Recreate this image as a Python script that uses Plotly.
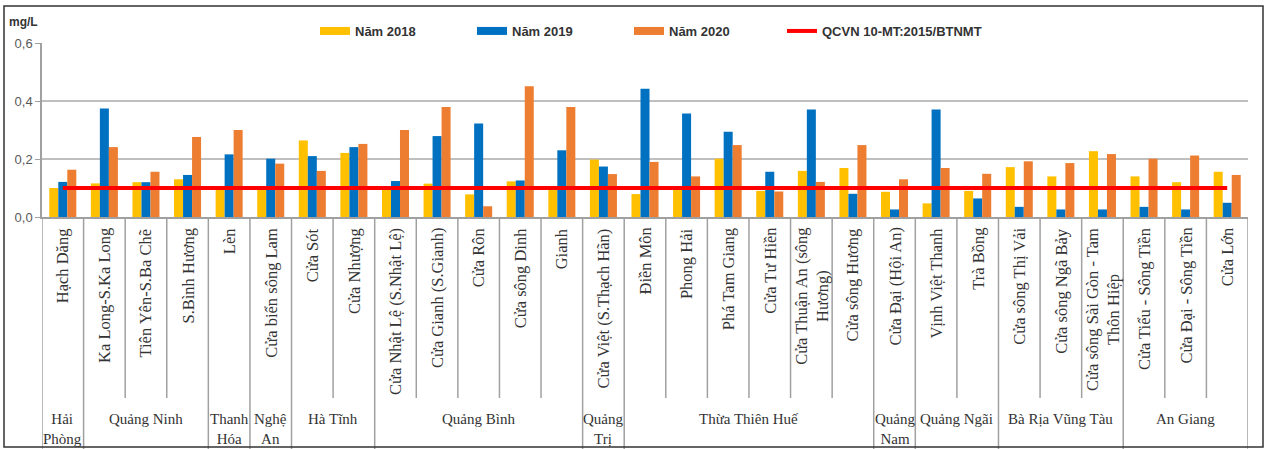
import plotly.graph_objs as go

# --- data -------------------------------------------------------------
categories = [
    "Hạch Dăng", "Ka Long-S.Ka Long", "Tiên Yên-S.Ba Chẽ", "S.Bình Hương",
    "Lèn", "Cửa biển sông Lam", "Cửa Sót", "Cửa Nhượng",
    "Cửa Nhật Lệ (S.Nhật Lệ)", "Cửa Gianh (S.Gianh)", "Cửa Rôn",
    "Cửa sông Dinh", "Gianh", "Cửa Việt (S.Thạch Hãn)", "Điền Môn",
    "Phong Hải", "Phá Tam Giang", "Cửa Tư Hiền", "Cửa Thuận An (sông<br>Hương)",
    "Cửa sông Hương", "Cửa Đại (Hội An)", "Vịnh Việt Thanh", "Trà Bồng",
    "Cửa sông Thị Vải", "Cửa sông Ngã Bảy", "Cửa sông Sài Gòn - Tam<br>Thôn Hiệp",
    "Cửa Tiểu - Sông Tiền", "Cửa Đại - Sông Tiền", "Cửa Lớn",
]
groups = ["Hải<br>Phòng", "Quảng Ninh", "Thanh<br>Hóa", "Nghệ<br>An", "Hà Tĩnh",
          "Quảng Bình", "Quảng<br>Trị", "Thừa Thiên Huế", "Quảng<br>Nam",
          "Quảng Ngãi", "Bà Rịa Vũng Tàu", "An Giang"]
group_sizes = [1, 3, 1, 1, 2, 5, 1, 6, 1, 2, 3, 3]

v2018 = [0.10, 0.116, 0.12, 0.13, 0.10, 0.095, 0.264, 0.221, 0.10, 0.115,
         0.078, 0.123, 0.10, 0.198, 0.079, 0.095, 0.201, 0.09, 0.159, 0.169,
         0.087, 0.047, 0.09, 0.172, 0.14, 0.227, 0.14, 0.12, 0.156]
v2019 = [0.121, 0.374, 0.12, 0.145, 0.216, 0.201, 0.21, 0.241, 0.124, 0.279,
         0.322, 0.126, 0.23, 0.174, 0.442, 0.357, 0.294, 0.156, 0.371, 0.08,
         0.026, 0.371, 0.064, 0.035, 0.026, 0.026, 0.035, 0.026, 0.049]
v2020 = [0.163, 0.241, 0.156, 0.276, 0.30, 0.184, 0.159, 0.252, 0.30, 0.379,
         0.037, 0.451, 0.379, 0.148, 0.19, 0.14, 0.248, 0.088, 0.121, 0.248,
         0.13, 0.169, 0.149, 0.192, 0.186, 0.217, 0.201, 0.212, 0.145]
qcvn = [0.1] * len(categories)

series = [("Năm 2018", v2018, "#FFC000"),
          ("Năm 2019", v2019, "#0070C0"),
          ("Năm 2020", v2020, "#ED7D31")]

# --- geometry helpers ---------------------------------------------------
W, H = 1267, 449
ML, MR, MT, MB = 42, 19, 43, 232

def px(p):
    return (p - ML) / (W - ML - MR)

def py(p):
    return (H - MB - p) / (H - MT - MB)

fig = go.Figure()

for name, vals, col in series:
    fig.add_trace(go.Bar(x=categories, y=vals, name=name, marker_color=col,
                         marker_line_width=0, showlegend=False, legendgroup=name))
    # wide swatch for the legend
    fig.add_trace(go.Scatter(x=[None], y=[None], mode="lines", name=name,
                             line=dict(color=col, width=8), legendgroup=name))

fig.add_trace(go.Scatter(x=categories, y=qcvn, mode="lines",
                         name="QCVN 10-MT:2015/BTNMT", legend="legend2",
                         line=dict(color="#FF0000", width=4)))

shapes = []
sep_color = "#A0A0A0"
# group boundaries go all the way down, others stop above group names
bounds = {0}
acc = 0
for s in group_sizes:
    acc += s
    bounds.add(acc)
for b in range(len(categories) + 1):
    y1 = py(449) if b in bounds else py(398)
    shapes.append(dict(type="line", xref="x", yref="paper", x0=b - 0.5, x1=b - 0.5,
                       y0=0, y1=y1, line=dict(color=sep_color, width=1.5)))
# outer frame
shapes.append(dict(type="rect", xref="paper", yref="paper", x0=px(4), x1=px(1263),
                   y0=py(447), y1=py(6), line=dict(color="#333333", width=1.5)))

annotations = []
for c in categories:
    annotations.append(dict(x=c, y=py(226), xref="x", yref="paper", text=c,
                            textangle=-90, showarrow=False, yanchor="top",
                            xanchor="center", align="center",
                            font=dict(family="Liberation Serif", size=16.5, color="#333333")))
acc = 0
for g, s in zip(groups, group_sizes):
    mid = acc + (s - 1) / 2
    acc += s
    annotations.append(dict(x=mid, y=py(409), xref="x", yref="paper", text=g,
                            showarrow=False, yanchor="top", xanchor="center",
                            align="center",
                            font=dict(family="Liberation Serif", size=15, color="#333333")))
annotations.append(dict(x=px(7), y=py(22), xref="paper", yref="paper", text="<b>mg/L</b>",
                        showarrow=False, xanchor="left", yanchor="middle",
                        font=dict(family="Liberation Sans", size=12, color="#333333")))

legend_font = dict(family="Liberation Sans", size=13, color="#333333", weight="bold")

fig.update_layout(
    width=W, height=H,
    margin=dict(l=ML, r=MR, t=MT, b=MB),
    paper_bgcolor="white", plot_bgcolor="white",
    barmode="group", bargap=0.35, bargroupgap=0,
    separators=",.",
    shapes=shapes, annotations=annotations,
    legend=dict(orientation="h", x=px(315), y=py(31), xanchor="left", yanchor="middle",
                entrywidth=112, entrywidthmode="pixels",
                font=legend_font, bgcolor="rgba(0,0,0,0)"),
    legend2=dict(orientation="h", x=px(782), y=py(31), xanchor="left", yanchor="middle",
                 font=legend_font, bgcolor="rgba(0,0,0,0)"),
    xaxis=dict(showticklabels=False, ticks="", range=[-0.5, len(categories) - 0.5],
               showline=True, linecolor="#A0A0A0", linewidth=1.5, showgrid=False,
               fixedrange=True),
    yaxis=dict(range=[0, 0.6], dtick=0.2, tickformat=".1f",
               showgrid=True, gridcolor="#BFBFBF", gridwidth=1.5,
               showline=True, linecolor="#A0A0A0", linewidth=1.5,
               ticks="outside", ticklen=5, tickcolor="#A0A0A0",
               tickfont=dict(family="Liberation Sans", size=13, color="#595959"),
               zeroline=False),
)

fig.write_html("out.html", config={"displayModeBar": False},
               post_script="document.body.style.margin='0';")
